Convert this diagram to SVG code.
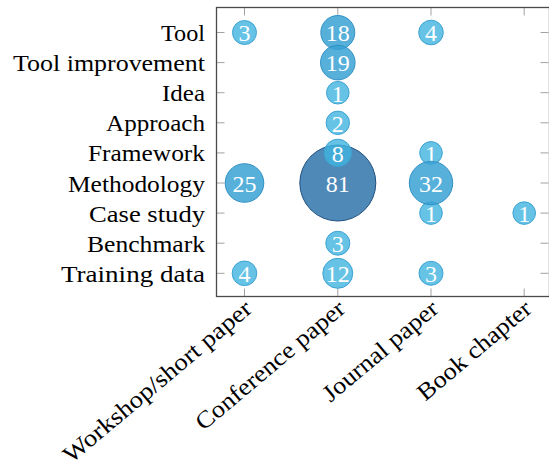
<svg xmlns="http://www.w3.org/2000/svg" width="549" height="468" viewBox="0 0 549 468">
<style>
.lbl{font-family:'Liberation Serif','DejaVu Serif','Noto Serif','Latin Modern Roman','CMU Serif','Nimbus Roman','Nimbus Roman No9 L',FreeSerif,'TeX Gyre Termes','Times New Roman',Times,serif;font-size:24px;fill:#000}
.yl{text-anchor:end}
.xl{text-anchor:end}
.num{font-family:'Liberation Serif','DejaVu Serif','Noto Serif','Latin Modern Roman','CMU Serif','Nimbus Roman','Nimbus Roman No9 L',FreeSerif,'TeX Gyre Termes','Times New Roman',Times,serif;font-size:24px;fill:#fff;text-anchor:middle}
.b{fill:#40b4e0;fill-opacity:0.8;stroke:#3ea3d2;stroke-width:1}
.m{fill:#3aa2d4;fill-opacity:0.85;stroke:#3291c4;stroke-width:1}
.big{fill:#4683b3;fill-opacity:0.95;stroke:#1e4f80;stroke-width:1}
.tick{stroke:#8a8a8a;stroke-width:0.8}
.axis{fill:none;stroke:#4a4a4a;stroke-width:1.3}
</style>
<g id="axes">
<g id="ticks">
<path class="tick" d="M216.5 32.5h8M216.5 62.6h8M216.5 92.7h8M216.5 122.8h8M216.5 152.9h8M216.5 183h8M216.5 213.1h8M216.5 243.2h8M216.5 273.3h8"/>
<path class="tick" d="M540.5 32.5h8M540.5 62.6h8M540.5 92.7h8M540.5 122.8h8M540.5 152.9h8M540.5 183h8M540.5 213.1h8M540.5 243.2h8M540.5 273.3h8"/>
<path class="tick" d="M244.5 7.5v8M337.8 7.5v8M431 7.5v8M524.2 7.5v8"/>
<path class="tick" d="M244.5 296.5v-8M337.8 296.5v-8M431 296.5v-8M524.2 296.5v-8"/>
</g>
<rect class="axis" x="216.5" y="7.5" width="333" height="289"/>
</g>
<g id="ylabels">
<text class="lbl yl" x="205" y="41" textLength="44" lengthAdjust="spacingAndGlyphs">Tool</text>
<text class="lbl yl" x="205" y="71.1" textLength="192" lengthAdjust="spacingAndGlyphs">Tool improvement</text>
<text class="lbl yl" x="205" y="101.2" textLength="43" lengthAdjust="spacingAndGlyphs">Idea</text>
<text class="lbl yl" x="205" y="131.3" textLength="99" lengthAdjust="spacingAndGlyphs">Approach</text>
<text class="lbl yl" x="205" y="161.4" textLength="117" lengthAdjust="spacingAndGlyphs">Framework</text>
<text class="lbl yl" x="205" y="191.5" textLength="137" lengthAdjust="spacingAndGlyphs">Methodology</text>
<text class="lbl yl" x="205" y="221.6" textLength="116" lengthAdjust="spacingAndGlyphs">Case study</text>
<text class="lbl yl" x="205" y="251.7" textLength="118" lengthAdjust="spacingAndGlyphs">Benchmark</text>
<text class="lbl yl" x="205" y="281.8" textLength="144" lengthAdjust="spacingAndGlyphs">Training data</text>
</g>
<g id="xlabels">
<text class="lbl xl" transform="translate(253.5 311) rotate(-40)" textLength="238" lengthAdjust="spacingAndGlyphs">Workshop/short paper</text>
<text class="lbl xl" transform="translate(346.8 311) rotate(-40)" textLength="187" lengthAdjust="spacingAndGlyphs">Conference paper</text>
<text class="lbl xl" transform="translate(440 311) rotate(-40)" textLength="143" lengthAdjust="spacingAndGlyphs">Journal paper</text>
<text class="lbl xl" transform="translate(533.2 311) rotate(-40)" textLength="141" lengthAdjust="spacingAndGlyphs">Book chapter</text>
</g>
<g id="connectors"/>
<g id="bubbles">
<g id="ws-tool"><circle class="b" cx="244.5" cy="32.5" r="12"/><text class="num" x="244.5" y="41.3">3</text></g>
<g id="ws-method"><circle class="m" cx="244.5" cy="183" r="19.3"/><text class="num" x="244.5" y="191.8">25</text></g>
<g id="ws-train"><circle class="b" cx="244.5" cy="273.3" r="12.3"/><text class="num" x="244.5" y="282.1">4</text></g>
<g id="cp-tool"><circle class="m" cx="337.8" cy="32.5" r="17"/><text class="num" x="337.8" y="41.3">18</text></g>
<g id="cp-toolimp"><circle class="m" cx="337.8" cy="62.6" r="17.3"/><text class="num" x="337.8" y="71.4">19</text></g>
<g id="cp-idea"><circle class="b" cx="337.8" cy="92.7" r="11.3"/><text class="num" x="337.8" y="101.5">1</text></g>
<g id="cp-approach"><circle class="b" cx="337.8" cy="122.8" r="11.7"/><text class="num" x="337.8" y="131.6">2</text></g>
<g id="cp-method"><circle class="big" cx="337.8" cy="183" r="38"/><text class="num" x="337.8" y="191.8">81</text></g>
<g id="cp-frame"><circle class="b" cx="337.8" cy="152.9" r="13.7"/><text class="num" x="337.8" y="161.7">8</text></g>
<g id="cp-bench"><circle class="b" cx="337.8" cy="243.2" r="12"/><text class="num" x="337.8" y="252">3</text></g>
<g id="cp-train"><circle class="b" cx="337.8" cy="273.3" r="15"/><text class="num" x="337.8" y="282.1">12</text></g>
<g id="jp-tool"><circle class="b" cx="431" cy="32.5" r="12.3"/><text class="num" x="431" y="41.3">4</text></g>
<g id="jp-frame"><circle class="b" cx="431" cy="152.9" r="11.3"/><text class="num" x="431" y="161.7">1</text></g>
<g id="jp-case"><circle class="b" cx="431" cy="213.1" r="11.3"/><text class="num" x="431" y="221.9">1</text></g>
<g id="jp-method"><circle class="m" cx="431" cy="183" r="21.7"/><text class="num" x="431" y="191.8">32</text></g>
<g id="jp-train"><circle class="b" cx="431" cy="273.3" r="12"/><text class="num" x="431" y="282.1">3</text></g>
<g id="bc-case"><circle class="b" cx="524.2" cy="213.1" r="11.3"/><text class="num" x="524.2" y="221.9">1</text></g>
</g>
</svg>
